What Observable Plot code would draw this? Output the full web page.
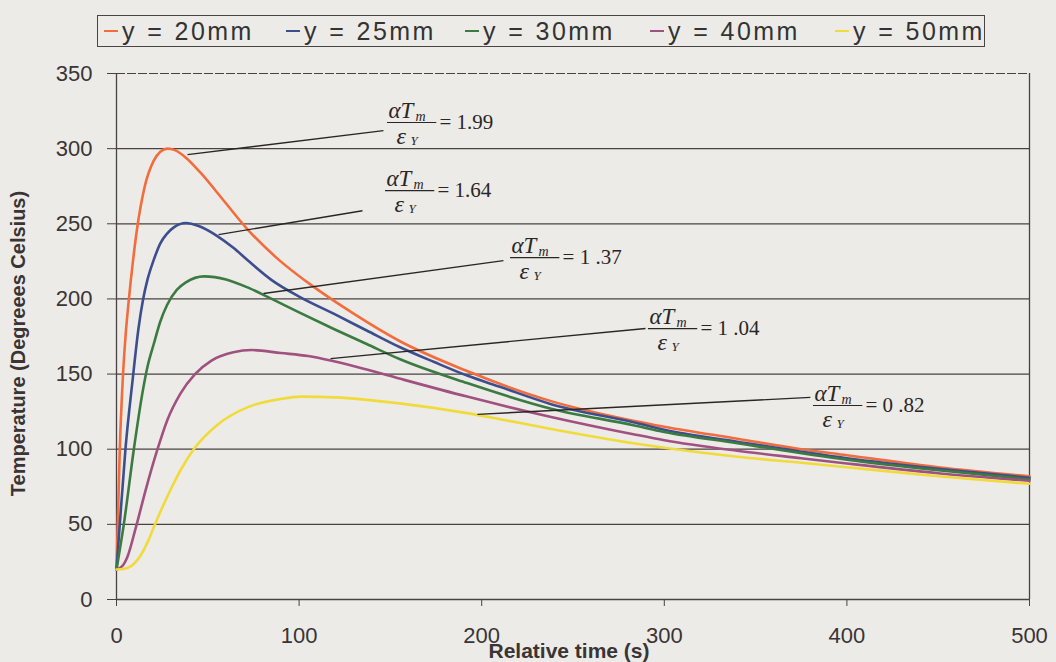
<!DOCTYPE html>
<html><head><meta charset="utf-8">
<script src="https://cdn.jsdelivr.net/npm/d3@7"></script>
<script src="https://cdn.jsdelivr.net/npm/@observablehq/plot@0.6"></script>
<style>
html,body{margin:0;padding:0;background:#ecebe8;}
#wrap{width:1056px;height:662px;position:relative;overflow:hidden;font-family:"Liberation Sans",Arial,sans-serif;color:#333;}
#legend{height:58px;position:relative;}
#legend .box{position:absolute;left:97px;top:15px;width:888px;height:32px;border:1.5px solid #4a4444;box-sizing:border-box;}
#legend .item{position:absolute;top:0;height:100%;display:flex;align-items:center;font-size:25px;letter-spacing:2.4px;word-spacing:1px;white-space:nowrap;color:#333;}
#legend .dash{display:inline-block;width:14px;height:2.5px;margin-right:4px;}
svg{display:block;}
</style>
</head><body>
<div id="wrap"><div id="legend"><div class="box" id="lbox"></div></div><div id="chart"></div></div>
<script>
// ---- data ----
const seriesNames = ["y = 20mm","y = 25mm","y = 30mm","y = 40mm","y = 50mm"];
const seriesColors = ["#f26c3c","#3d4e8e","#3b7b42","#a0517f","#f0db3a"];

const t20 = [0,0.7,1.8,3.5,5,6.8,9,11.3,15.3,20.4,24,28,32,38,46,59,72,88,108,125,155,192,238,283,300,340,375,400,450,500];
const v20 = [20,50,100,148,176,200,225,247,274,292,298,300,299,294,284,265,246,227,208,194,172,152,132,119,115,107,100,96,88,82];

const t25 = [0,1.8,4.9,9,12,14.6,17,20.4,24,27.7,31.4,38,45,55,64,72,85,100,120,137,155,174,192,210,238,283,300,340,400,450,500];
const v25 = [20,50,100,148,180,200,213,226,237,243.5,247.6,250.5,248.5,242,234,225.5,212.5,201.5,189.5,179,168,158,149,141.5,130,118,113,105,94,87,81];

const t30 = [0,4,9.5,14,17,20.4,24,27.7,33,38,48,60,73,85,100,119,137,155,192,238,283,300,340,400,450,500];
const v30 = [20,50,100,136,155,170,185,196,206,211,215,213,207,200,191,180,170,160,144,127,116,111.5,104,93,86,80];

const t40 = [0,3,6,10.4,16,22.2,27.7,35,43,52,64,74,90,105,119,137,155,192,238,283,300,340,375,400,450,500];
const v40 = [20,22,28.5,47,73,99,119,137,150,159,164.5,166,164,162,158.5,153,147,135,121.5,110,106,99,94,90.5,84,79];

const t50 = [0,4,7.7,13,17,20.4,25,30,36,42.3,55,73,90,101,120,155,192,210,238,283,300,340,375,400,450,500];
const v50 = [20,20.3,22,29,38,48,61,74,88,100,116,128.5,133.5,135,134.5,130.5,124,120,113.5,104,101,95,91,88,82,77];

const xTicks = [0,100,200,300,400,500];
const yTicks = [0,50,100,150,200,250,300,350];

// annotation leader lines (data units) and fraction anchors
const leadX1 = [38.9,55.9,80.5,117.2,197.7];
const leadY1 = [296,242.8,203.6,160.3,123.2];
const leadX2 = [146.2,134.7,211.9,289.7,380];
const leadY2 = [312,258.7,225.5,180.3,134.5];
const fracX = [148.4,147.3,215.8,291.3,381.7];
const fracY = [317.4,272,227.5,180.3,129.1];
const fracVal = ["= 1.99","= 1.64","= 1 .37","= 1 .04","= 0 .82"];

// ---- build ----
const allT = [t20,t25,t30,t40,t50], allV = [v20,v25,v30,v40,v50];
const rows = seriesNames.flatMap((name,k)=>allT[k].map((t,i)=>({series:name,t,v:allV[k][i]})));
const leads = leadX1.map((x,i)=>({x1:x,y1:leadY1[i],x2:leadX2[i],y2:leadY2[i]}));
const fracs = fracX.map((x,i)=>({x,y:fracY[i],val:fracVal[i]}));

// legend
const lbox = document.getElementById("lbox");
const lefts = [6,188,367,552,737];
seriesNames.forEach((n,i)=>{
  const it = document.createElement("div");
  it.className="item"; it.style.left = lefts[i]+"px";
  const d = document.createElement("span"); d.className="dash"; d.style.background=seriesColors[i];
  it.appendChild(d); it.appendChild(document.createTextNode(n));
  lbox.appendChild(it);
});

const serif = "'Liberation Serif','Times New Roman',serif";
const ink = "#2a2626";
const plot = Plot.plot({
  width:1056, height:604,
  marginTop:15, marginBottom:63, marginLeft:116, marginRight:27,
  x:{domain:[0,500]},
  y:{domain:[0,350]},
  color:{domain:seriesNames, range:seriesColors},
  style:{background:"transparent", fontFamily:"'Liberation Sans',Arial,sans-serif", fontSize:"22px", color:"#3a3434", overflow:"visible"},
  marks:[
    Plot.ruleY(yTicks.filter(d=>d<350), {stroke:"#4a4242", strokeWidth:1.3}),
    Plot.ruleY([350], {stroke:"#4a4242", strokeWidth:1.2, strokeDasharray:"9,2"}),
    Plot.ruleX([0,500], {stroke:"#4a4242", strokeWidth:1.3}),
    Plot.axisY({ticks:yTicks, tickSize:9, tickPadding:15, label:null, fontSize:22, stroke:"#4a4242"}),
    Plot.axisX({ticks:xTicks, tickSize:7, tickPadding:21, label:null, fontSize:22, stroke:"#4a4242"}),
    Plot.line(rows, {x:"t", y:"v", stroke:"series", z:"series", strokeWidth:2.6, curve:"monotone-x"}),
    Plot.link(leads, {x1:"x1", y1:"y1", x2:"x2", y2:"y2", stroke:ink, strokeWidth:1.4}),
    Plot.ruleY(fracs, {y:"y", x1:"x", x2:d=>d.x+27, stroke:ink, strokeWidth:1.2}),
    Plot.text(fracs, {x:"x", y:"y", text:()=>"αT", dx:1, dy:-12, textAnchor:"start", fontFamily:serif, fontStyle:"italic", fontSize:23, fill:ink}),
    Plot.text(fracs, {x:"x", y:"y", text:()=>"m", dx:28, dy:-6, textAnchor:"start", fontFamily:serif, fontStyle:"italic", fontSize:14, fill:ink}),
    Plot.text(fracs, {x:"x", y:"y", text:()=>"ε", dx:9, dy:14, textAnchor:"start", fontFamily:serif, fontStyle:"italic", fontSize:24, fill:ink}),
    Plot.text(fracs, {x:"x", y:"y", text:()=>"Y", dx:23, dy:18, textAnchor:"start", fontFamily:serif, fontStyle:"italic", fontSize:13, fill:ink}),
    Plot.text(fracs, {x:"x", y:"y", text:"val", dx:52, dy:0, textAnchor:"start", fontFamily:serif, fontSize:21, letterSpacing:2, fill:ink}),
    Plot.text(["Temperature (Degreees Celsius)"], {frameAnchor:"left", rotate:-90, dx:-98, dy:7, textAnchor:"middle", lineAnchor:"middle", fontWeight:"bold", fontSize:20, fill:"#3a3434"}),
    Plot.text(["Relative time (s)"], {frameAnchor:"bottom", dx:-4, dy:52, textAnchor:"middle", lineAnchor:"middle", fontWeight:"bold", fontSize:21, fill:"#3a3434"})
  ]
});
document.getElementById("chart").appendChild(plot);
</script>
</body></html>
